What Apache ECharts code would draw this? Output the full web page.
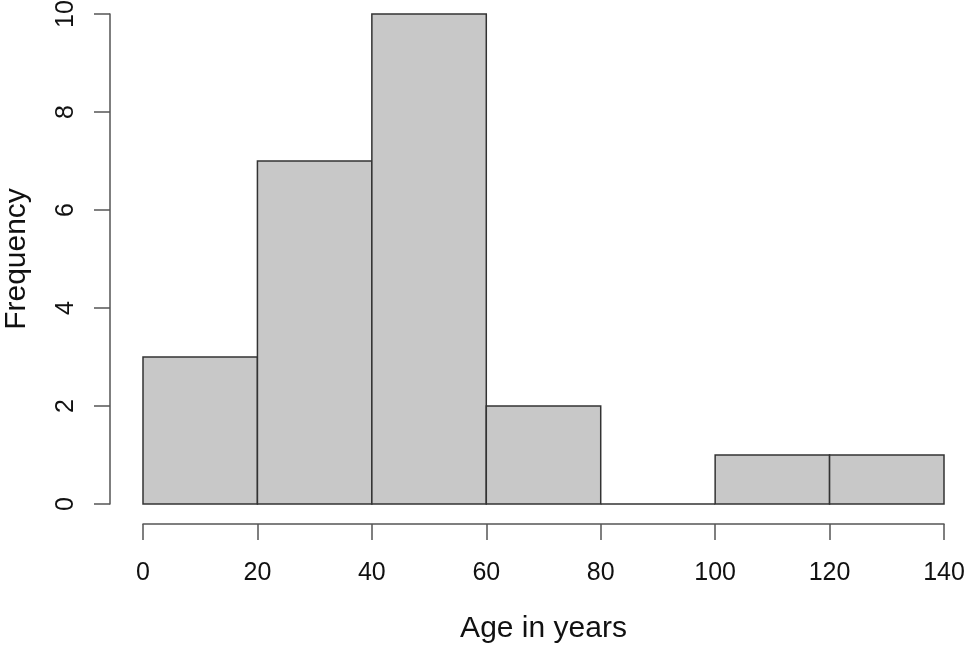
<!DOCTYPE html>
<html><head><meta charset="utf-8">
<script src="https://cdn.jsdelivr.net/npm/echarts@6/dist/echarts.min.js"></script>
<style>html,body{margin:0;padding:0;background:#fff}#c{width:967px;height:646px}</style>
</head><body><div id="c"></div>
<script>
const binStarts = [0, 20, 40, 60, 80, 100, 120];
const binEnds = [20, 40, 60, 80, 100, 120, 140];
const counts = [3, 7, 10, 2, 0, 1, 1];
const xTicks = [0, 20, 40, 60, 80, 100, 120, 140];
const yTicks = [0, 2, 4, 6, 8, 10];

const data = binStarts.map((s, i) => [s, binEnds[i], counts[i]]);
const chart = echarts.init(document.getElementById('c'));
const font = 'Liberation Sans, Arial, sans-serif';
chart.setOption({
  animation: false,
  grid: {left: 143, right: 23, top: 14, bottom: 142, outerBoundsMode: 'none', containLabel: false},
  xAxis: {
    type: 'value', min: 0, max: 140, interval: 20, offset: 20,
    name: 'Age in years', nameLocation: 'middle', nameGap: 90,
    nameTextStyle: {fontSize: 30, color: '#111', fontFamily: font},
    axisLine: {show: true, onZero: false, lineStyle: {color: '#555', width: 1.5}},
    axisTick: {show: true, length: 16, lineStyle: {color: '#555', width: 1.5}},
    axisLabel: {fontSize: 25, color: '#111', fontFamily: font, margin: 37},
    splitLine: {show: false}
  },
  yAxis: {
    type: 'value', min: 0, max: 10, interval: 2, offset: 33,
    name: 'Frequency', nameLocation: 'middle', nameGap: 78, nameRotate: 90,
    nameTextStyle: {fontSize: 30, color: '#111', fontFamily: font},
    axisLine: {show: true, onZero: false, lineStyle: {color: '#555', width: 1.5}},
    axisTick: {show: true, length: 16, lineStyle: {color: '#555', width: 1.5}},
    axisLabel: {fontSize: 25, color: '#111', fontFamily: font, rotate: 90, margin: 31},
    splitLine: {show: false}
  },
  series: [{
    type: 'custom',
    data: data,
    encode: {x: [0, 1], y: 2},
    renderItem: function (params, api) {
      const p0 = api.coord([api.value(0), api.value(2)]);
      const p1 = api.coord([api.value(1), 0]);
      return {
        type: 'rect',
        shape: {x: p0[0], y: p0[1], width: p1[0] - p0[0], height: p1[1] - p0[1]},
        style: {fill: '#c8c8c8', stroke: '#333', lineWidth: 1.5}
      };
    }
  }]
});
</script></body></html>
